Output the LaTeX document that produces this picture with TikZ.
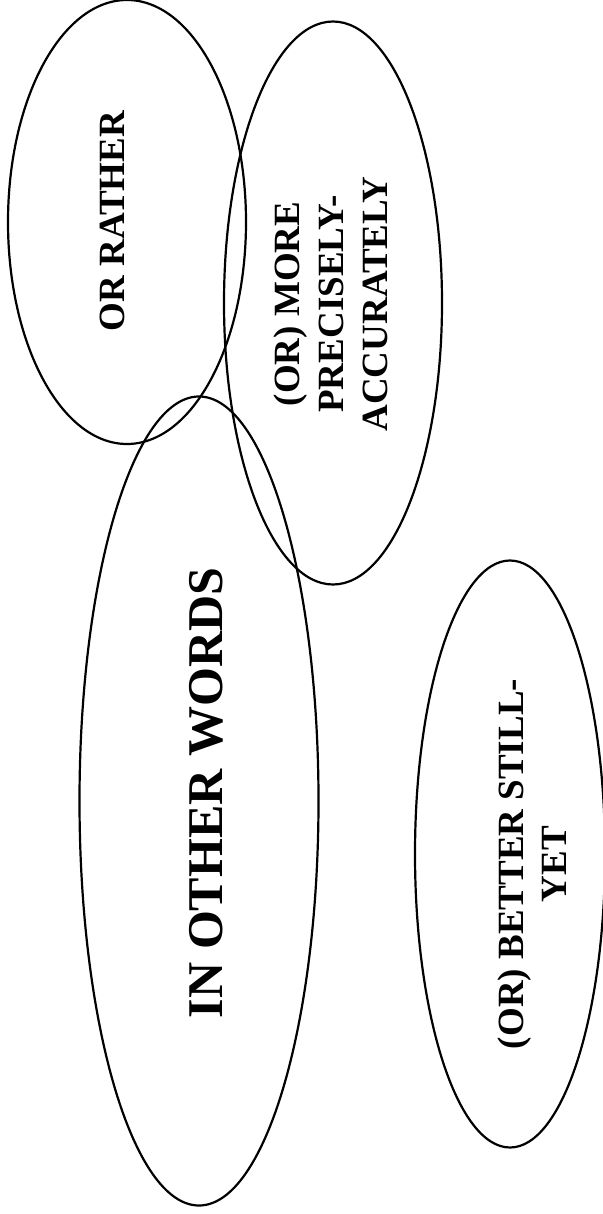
\documentclass[tikz,border=0pt]{standalone}
\usepackage{fontspec}
\setmainfont{Liberation Serif}
\usetikzlibrary{shapes.geometric}
\usetikzlibrary{positioning}

\begin{document}
\begin{tikzpicture}[x=1pt,y=-1pt,line width=2.2pt,
			bubble/.style={draw,ellipse,inner sep=0pt},
			phrase/.style={rotate=90,align=center,inner sep=0pt,
				font=\bfseries\fontsize{37}{44}\selectfont}]
			\useasboundingbox (0,0) rectangle (602,1214);
			
			% the four bubbles
			\node[bubble, minimum width=238pt, minimum height=444pt] (rather)  at (127,222) {};
			\node[bubble, minimum width=218pt, minimum height=563pt] (precise) at (333,303) {};
			\node[bubble, minimum width=239pt, minimum height=809pt] (words)   at (199,801) {};
			\node[bubble, minimum width=190pt, minimum height=587pt] (still)   at (510,854) {};
			
			% their phrases
			\node[phrase] (ratherT)  at (112,221) {OR RATHER};
			\node[phrase] (preciseT) at (331,304) {(OR) MORE\\PRECISELY-\\ACCURATELY};
			\node[phrase, font=\bfseries\fontsize{50}{58}\selectfont] (wordsT) at (206,793) {IN OTHER WORDS};
			\node[phrase, font=\bfseries\fontsize{37}{43}\selectfont] (stillT) at (532,864) {(OR) BETTER STILL-\\YET};
			\end{tikzpicture}
\end{document}
